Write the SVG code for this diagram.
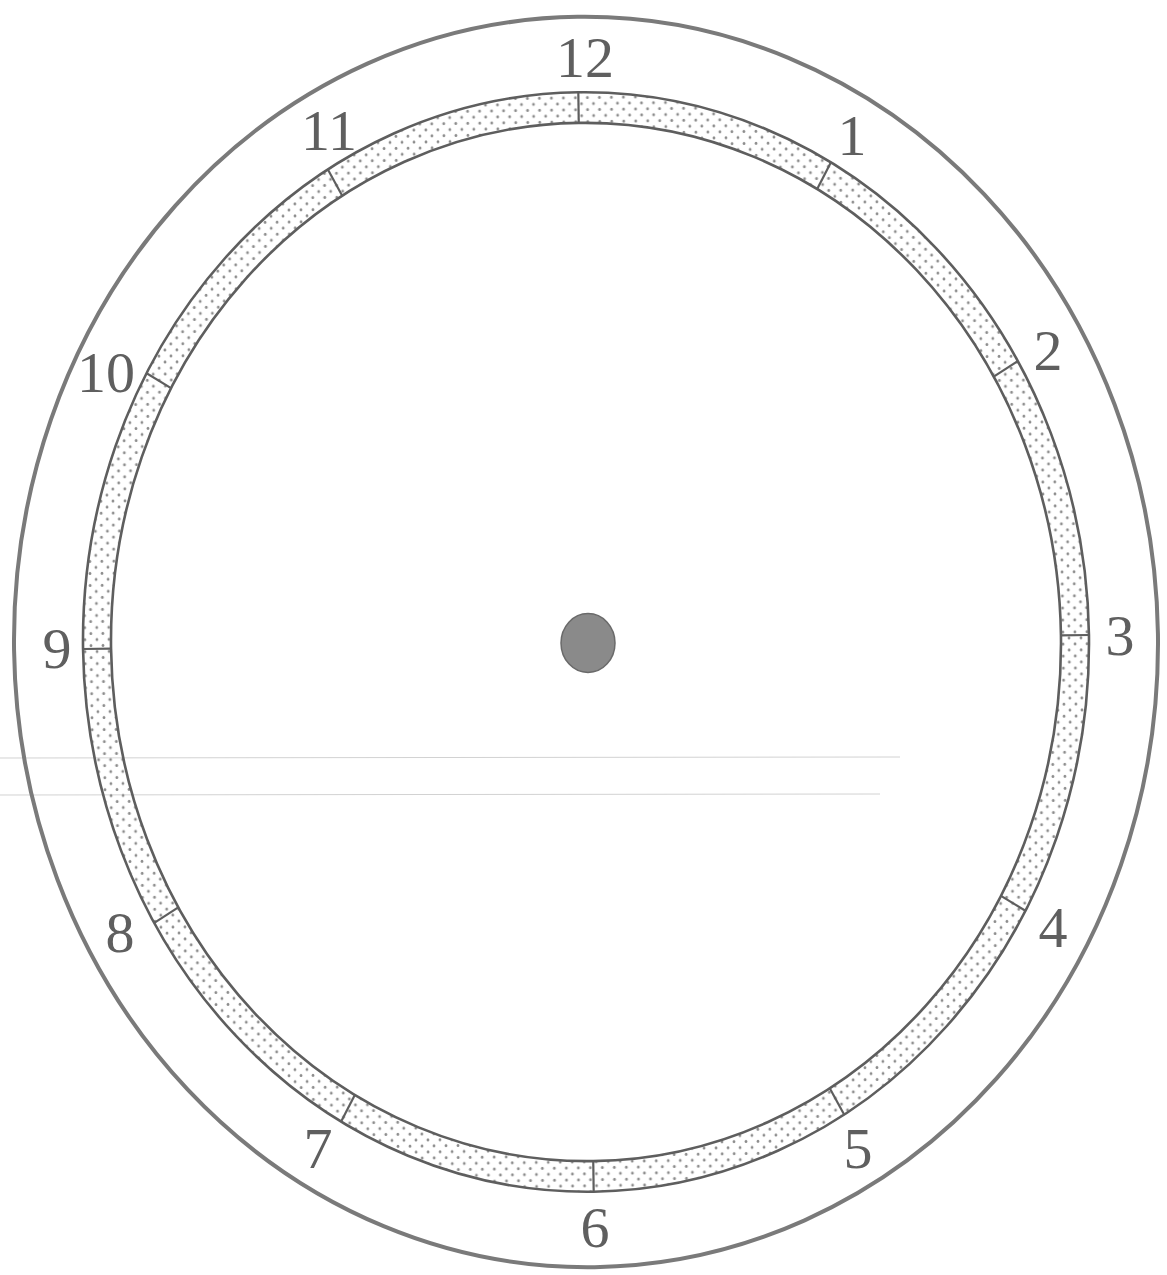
<svg xmlns="http://www.w3.org/2000/svg" width="1167" height="1275" viewBox="0 0 1167 1275">
  <defs>
    <pattern id="dots" patternUnits="userSpaceOnUse" width="12" height="11">
      <circle cx="3" cy="2.5" r="1.4" fill="#8c8c8c"/>
      <circle cx="9" cy="8" r="1.4" fill="#8c8c8c"/>
    </pattern>
  </defs>
  <style>
    .ln { fill: none; stroke: #5e5e5e; vector-effect: non-scaling-stroke; }
    .outer { stroke: #7a7a7a; stroke-width: 4; }
    .ring { stroke-width: 2.6; }
    .tick { stroke: #5e5e5e; stroke-width: 2.2; vector-effect: non-scaling-stroke; }
    .num { font-family: "Liberation Serif", "Times New Roman", serif; font-size: 58px; fill: #5f5f5f; text-anchor: middle; }
    .scan { stroke: #d2d2d2; stroke-width: 1; }
  </style>
  <rect width="1167" height="1275" fill="#ffffff"/>
  <g id="scan-lines">
    <line class="scan" x1="0" y1="758" x2="900" y2="757"/>
    <line class="scan" x1="0" y1="795" x2="880" y2="794"/>
  </g>
  <g id="clock" transform="translate(586,642) rotate(-0.8) scale(1,1.093)">
    <g id="outer-rim">
      <circle class="ln outer" cx="0" cy="0" r="572"/>
    </g>
    <g id="minute-ring">
      <path d="M -503 0 A 503 503 0 1 0 503 0 A 503 503 0 1 0 -503 0 Z M -475 0 A 475 475 0 1 0 475 0 A 475 475 0 1 0 -475 0 Z" fill="url(#dots)" fill-rule="evenodd"/>
      <circle class="ln ring" cx="0" cy="0" r="503"/>
      <circle class="ln ring" cx="0" cy="0" r="475"/>
    </g>
    <g id="ticks">
      <line class="tick" x1="0" y1="-475" x2="0" y2="-503"/>
      <line class="tick" x1="237.5" y1="-411.4" x2="251.5" y2="-435.6"/>
      <line class="tick" x1="411.4" y1="-237.5" x2="435.6" y2="-251.5"/>
      <line class="tick" x1="475" y1="0" x2="503" y2="0"/>
      <line class="tick" x1="411.4" y1="237.5" x2="435.6" y2="251.5"/>
      <line class="tick" x1="237.5" y1="411.4" x2="251.5" y2="435.6"/>
      <line class="tick" x1="0" y1="475" x2="0" y2="503"/>
      <line class="tick" x1="-237.5" y1="411.4" x2="-251.5" y2="435.6"/>
      <line class="tick" x1="-411.4" y1="237.5" x2="-435.6" y2="251.5"/>
      <line class="tick" x1="-475" y1="0" x2="-503" y2="0"/>
      <line class="tick" x1="-411.4" y1="-237.5" x2="-435.6" y2="-251.5"/>
      <line class="tick" x1="-237.5" y1="-411.4" x2="-251.5" y2="-435.6"/>
    </g>
  </g>
  <g id="center-dot">
    <ellipse cx="588" cy="643" rx="27" ry="29.5" fill="#8a8a8a" stroke="#6a6a6a" stroke-width="1.5"/>
  </g>
  <g id="numerals">
    <text class="num" x="585" y="77">12</text>
    <text class="num" x="852" y="155">1</text>
    <text class="num" x="1048" y="370">2</text>
    <text class="num" x="1120" y="655">3</text>
    <text class="num" x="1053" y="947">4</text>
    <text class="num" x="858" y="1168">5</text>
    <text class="num" x="595" y="1247">6</text>
    <text class="num" x="318" y="1168">7</text>
    <text class="num" x="120" y="952">8</text>
    <text class="num" x="57" y="668">9</text>
    <text class="num" x="106" y="392">10</text>
    <text class="num" x="329" y="150">11</text>
  </g>
</svg>
